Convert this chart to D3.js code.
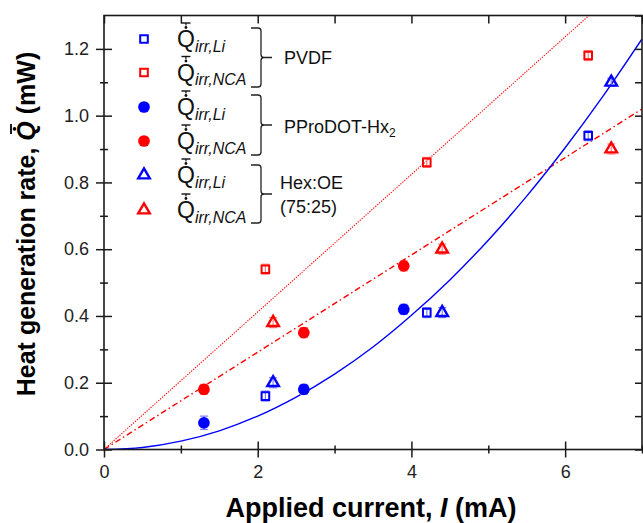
<!DOCTYPE html>
<html><head><meta charset="utf-8">
<script src="https://cdn.jsdelivr.net/npm/d3@7"></script>
<style>
body{margin:0;background:#fff}
text{font-family:Arial,"Liberation Sans",Helvetica,sans-serif}
</style>
</head><body>
<svg id="chart" width="643" height="523"></svg>
<script>
// ---------- data ----------
const xTickValues = [0, 2, 4, 6];
const xMinorValues = [1, 3, 5, 7];
const yTickValues = [0.0, 0.2, 0.4, 0.6, 0.8, 1.0, 1.2];
const yMinorValues = [0.1, 0.3, 0.5, 0.7, 0.9, 1.1];
const topTickValues = [0, 1, 2, 3, 4, 5, 6, 7];
const rightTickValues = [0, 0.1, 0.2, 0.3, 0.4, 0.5, 0.6, 0.7, 0.8, 0.9, 1.0, 1.1, 1.2, 1.3];

const currentPVDF = [2.1, 4.2, 6.3];
const pvdfLi = [0.16, 0.41, 0.94];
const pvdfNCA = [0.54, 0.86, 1.18];
const errPvdfLi = [0.015, 0.015, 0.015];
const errPvdfNCA = [0.015, 0.015, 0.015];

const currentPPro = [1.3, 2.6, 3.9];
const pproLi = [0.08, 0.18, 0.42];
const pproNCA = [0.18, 0.35, 0.55];
const errPproLi = [0.02, 0.015, 0.015];
const errPproNCA = [0.015, 0.015, 0.015];

const currentHex = [2.2, 4.4, 6.6];
const hexLi = [0.20, 0.41, 1.10];
const hexNCA = [0.38, 0.60, 0.90];
const errHexLi = [0.015, 0.015, 0.012];
const errHexNCA = [0.015, 0.015, 0.015];

// fitted lines
const fitDottedX = [0, 7];
const fitDottedY = [0, 1.442];
const fitDashDotX = [0, 7];
const fitDashDotY = [0, 1.02];
const fitCurveX = [0, 0.5, 1, 1.5, 2, 2.5, 3, 3.5, 4, 4.5, 5, 5.5, 6, 6.5, 7];
const fitCurveY = [0, 0.006, 0.025, 0.056, 0.100, 0.157, 0.226, 0.307, 0.402, 0.508, 0.627, 0.759, 0.904, 1.061, 1.230];

const legendSub = ["irr,Li", "irr,NCA", "irr,Li", "irr,NCA", "irr,Li", "irr,NCA"];
const groupLabels = ["PVDF", "PProDOT-Hx", "Hex:OE", "(75:25)"];

// ---------- setup ----------
const L = 104, R = 642, T = 15.5, B = 449.5;
const svg = d3.select("#chart");
const x = d3.scaleLinear().domain([0, 7]).range([L, R]);
const y = d3.scaleLinear().domain([0, 1.3]).range([B, T]);
const axisColor = "#1a1a1a";
const BLUE = "#0000ff", RED = "#ff0000";
const BLUE_ERR = "#8080ff", RED_ERR = "#ff8080";

svg.append("defs").append("clipPath").attr("id", "plotclip")
  .append("rect").attr("x", L).attr("y", T).attr("width", R - L).attr("height", B - T);

// ---------- fit lines ----------
const plot = svg.append("g").attr("clip-path", "url(#plotclip)");
const line = d3.line().x(d => x(d[0])).y(d => y(d[1]));
plot.append("path").datum(d3.zip(fitDottedX, fitDottedY)).attr("d", line)
  .attr("fill", "none").attr("stroke", RED).attr("stroke-width", 1.1).attr("stroke-dasharray", "1.3,1.3");
plot.append("path").datum(d3.zip(fitDashDotX, fitDashDotY)).attr("d", line)
  .attr("fill", "none").attr("stroke", RED).attr("stroke-width", 1.4).attr("stroke-dasharray", "6,3,1.5,3");
plot.append("path").datum(d3.zip(fitCurveX, fitCurveY)).attr("d", line.curve(d3.curveCatmullRom))
  .attr("fill", "none").attr("stroke", BLUE).attr("stroke-width", 1.4);

// ---------- axes ----------
function styleAxis(g) {
  g.select(".domain").remove();
  g.selectAll(".tick line").attr("stroke", axisColor).attr("stroke-width", 1.5);
  g.selectAll(".tick text").attr("fill", "#222").attr("font-size", 18)
    .attr("font-family", "Arial, 'Liberation Sans', sans-serif");
}
svg.append("g").attr("transform", `translate(0,${B})`)
  .call(d3.axisBottom(x).tickValues(xTickValues).tickFormat(d3.format("d")).tickSize(8).tickPadding(8))
  .call(styleAxis)
  .call(g => g.selectAll(".tick line").attr("y1", -8).attr("y2", 8));
svg.append("g").attr("transform", `translate(0,${B})`)
  .call(d3.axisBottom(x).tickValues(xMinorValues).tickFormat("").tickSize(4))
  .call(styleAxis)
  .call(g => g.selectAll(".tick line").attr("y1", -4).attr("y2", 4));
svg.append("g").attr("transform", `translate(${L},0)`)
  .call(d3.axisLeft(y).tickValues(yTickValues).tickFormat(d3.format(".1f")).tickSize(8).tickPadding(7))
  .call(styleAxis)
  .call(g => g.selectAll(".tick line").attr("x1", -8).attr("x2", 8));
svg.append("g").attr("transform", `translate(${L},0)`)
  .call(d3.axisLeft(y).tickValues(yMinorValues).tickFormat("").tickSize(4))
  .call(styleAxis)
  .call(g => g.selectAll(".tick line").attr("x1", -4).attr("x2", 4));
svg.append("g").attr("transform", `translate(0,${T})`)
  .call(d3.axisTop(x).tickValues(topTickValues).tickFormat("").tickSize(-8))
  .call(styleAxis);
svg.append("g").attr("transform", `translate(${R},0)`)
  .call(d3.axisRight(y).tickValues(rightTickValues).tickFormat("").tickSize(-7))
  .call(styleAxis);
svg.append("rect").attr("x", L).attr("y", T).attr("width", R - L).attr("height", B - T)
  .attr("fill", "none").attr("stroke", axisColor).attr("stroke-width", 1.6);

// ---------- markers ----------
const sq = d3.symbol().type(d3.symbolSquare).size(58)();
const tri = d3.symbol().type(d3.symbolTriangle).size(58)();
const circ = d3.symbol().type(d3.symbolCircle).size(108)();
const series = [
  {xs: currentPVDF, ys: pvdfLi, err: errPvdfLi, color: BLUE, ecolor: BLUE_ERR, shape: sq, fill: false, sw: 2},
  {xs: currentPVDF, ys: pvdfNCA, err: errPvdfNCA, color: RED, ecolor: RED_ERR, shape: sq, fill: false, sw: 2},
  {xs: currentPPro, ys: pproLi, err: errPproLi, color: BLUE, ecolor: BLUE_ERR, shape: circ, fill: true, sw: 0},
  {xs: currentPPro, ys: pproNCA, err: errPproNCA, color: RED, ecolor: RED_ERR, shape: circ, fill: true, sw: 0},
  {xs: currentHex, ys: hexLi, err: errHexLi, color: BLUE, ecolor: BLUE_ERR, shape: tri, fill: false, sw: 2.4},
  {xs: currentHex, ys: hexNCA, err: errHexNCA, color: RED, ecolor: RED_ERR, shape: tri, fill: false, sw: 2.4}
];
series.forEach(s => {
  const pts = s.xs.map((v, i) => ({x: v, y: s.ys[i], e: s.err[i]}));
  const g = svg.append("g");
  const eb = g.selectAll(".eb").data(pts).enter().append("g").attr("stroke", s.ecolor).attr("stroke-width", 1.2);
  eb.append("line").attr("x1", d => x(d.x)).attr("x2", d => x(d.x)).attr("y1", d => y(d.y - d.e)).attr("y2", d => y(d.y + d.e));
  eb.append("line").attr("x1", d => x(d.x) - 4).attr("x2", d => x(d.x) + 4).attr("y1", d => y(d.y - d.e)).attr("y2", d => y(d.y - d.e));
  eb.append("line").attr("x1", d => x(d.x) - 4).attr("x2", d => x(d.x) + 4).attr("y1", d => y(d.y + d.e)).attr("y2", d => y(d.y + d.e));
  g.selectAll(".m").data(pts).enter().append("path").attr("d", s.shape)
    .attr("transform", d => `translate(${x(d.x)},${y(d.y)})`)
    .attr("fill", s.fill ? s.color : "none")
    .attr("stroke", s.fill ? "none" : s.color).attr("stroke-width", s.sw);
});

// ---------- legend ----------
const rowY = [39, 72.5, 107, 141, 175, 210];
const lg = svg.append("g");
series.forEach((s, i) => {
  lg.append("path").attr("d", s.shape).attr("transform", `translate(144,${rowY[i]})`)
    .attr("fill", s.fill ? s.color : "none").attr("stroke", s.fill ? "none" : s.color).attr("stroke-width", s.sw);
  const t = lg.append("text").attr("x", 177).attr("y", rowY[i] + 8).attr("fill", "#111");
  const q = t.append("tspan").attr("font-size", 23).text("Q");
  t.append("tspan").attr("font-size", 16).attr("font-style", "italic").attr("dy", 4.5).text(legendSub[i]);
  const qw = q.node().getComputedTextLength();
  const cx = 177 + qw / 2;
  lg.append("line").attr("x1", cx - 4.5).attr("x2", cx + 4.5).attr("y1", rowY[i] - 16).attr("y2", rowY[i] - 16)
    .attr("stroke", "#111").attr("stroke-width", 1.4);
  lg.append("line").attr("x1", cx).attr("x2", cx).attr("y1", rowY[i] - 16).attr("y2", rowY[i] - 13.5)
    .attr("stroke", "#111").attr("stroke-width", 1.2);
  lg.append("circle").attr("cx", cx).attr("cy", rowY[i] - 11.5).attr("r", 1.4).attr("fill", "#111");
});
function brace(y0, y1, xa, xv, xt) {
  const ym = (y0 + y1) / 2, r = 3;
  return `M${xa},${y0} L${xv - r},${y0} Q${xv},${y0} ${xv},${y0 + r} L${xv},${ym - r} Q${xv},${ym} ${xv + r},${ym} L${xt},${ym}` +
         ` M${xv + r},${ym} Q${xv},${ym} ${xv},${ym + r} L${xv},${y1 - r} Q${xv},${y1} ${xv - r},${y1} L${xa},${y1}`;
}
const braceSpans = [[28, 87], [95, 155], [165, 223]];
braceSpans.forEach(b => {
  lg.append("path").attr("d", brace(b[0], b[1], 251, 261, 272))
    .attr("fill", "none").attr("stroke", "#222").attr("stroke-width", 1.3);
});
lg.append("text").attr("x", 284).attr("y", 64).attr("font-size", 18).attr("fill", "#111").text(groupLabels[0]);
const pp = lg.append("text").attr("x", 284).attr("y", 133).attr("font-size", 18).attr("fill", "#111");
pp.append("tspan").text(groupLabels[1]);
pp.append("tspan").attr("font-size", 12).attr("dy", 4).text("2");
lg.append("text").attr("x", 280).attr("y", 189).attr("font-size", 18).attr("fill", "#111").text(groupLabels[2]);
lg.append("text").attr("x", 280).attr("y", 213).attr("font-size", 18).attr("fill", "#111").text(groupLabels[3]);

// ---------- axis titles ----------
const xt = svg.append("text").attr("x", 371).attr("y", 517).attr("text-anchor", "middle")
  .attr("font-size", 27).attr("font-weight", "bold").attr("fill", "#000");
xt.append("tspan").text("Applied current, ");
xt.append("tspan").attr("font-style", "italic").text("I");
xt.append("tspan").text(" (mA)");

const yg = svg.append("g").attr("transform", "translate(35,224) rotate(-90)");
const yt = yg.append("text").attr("x", 0).attr("y", 0).attr("text-anchor", "middle")
  .attr("font-size", 25).attr("font-weight", "bold").attr("fill", "#000");
const pre = "Heat generation rate, ";
yt.append("tspan").text(pre);
yt.append("tspan").attr("font-style", "italic").text("Q");
yt.append("tspan").text(" (mW)");
const qs = yt.node().getStartPositionOfChar(pre.length);
const qe = yt.node().getEndPositionOfChar(pre.length);
const qcx = (qs.x + qe.x) / 2 + 2;
yg.append("line").attr("x1", qcx - 5).attr("x2", qcx + 5).attr("y1", -24).attr("y2", -24)
  .attr("stroke", "#000").attr("stroke-width", 1.8);
yg.append("circle").attr("cx", qcx).attr("cy", -20.5).attr("r", 1.8).attr("fill", "#000");
</script>
</body></html>
